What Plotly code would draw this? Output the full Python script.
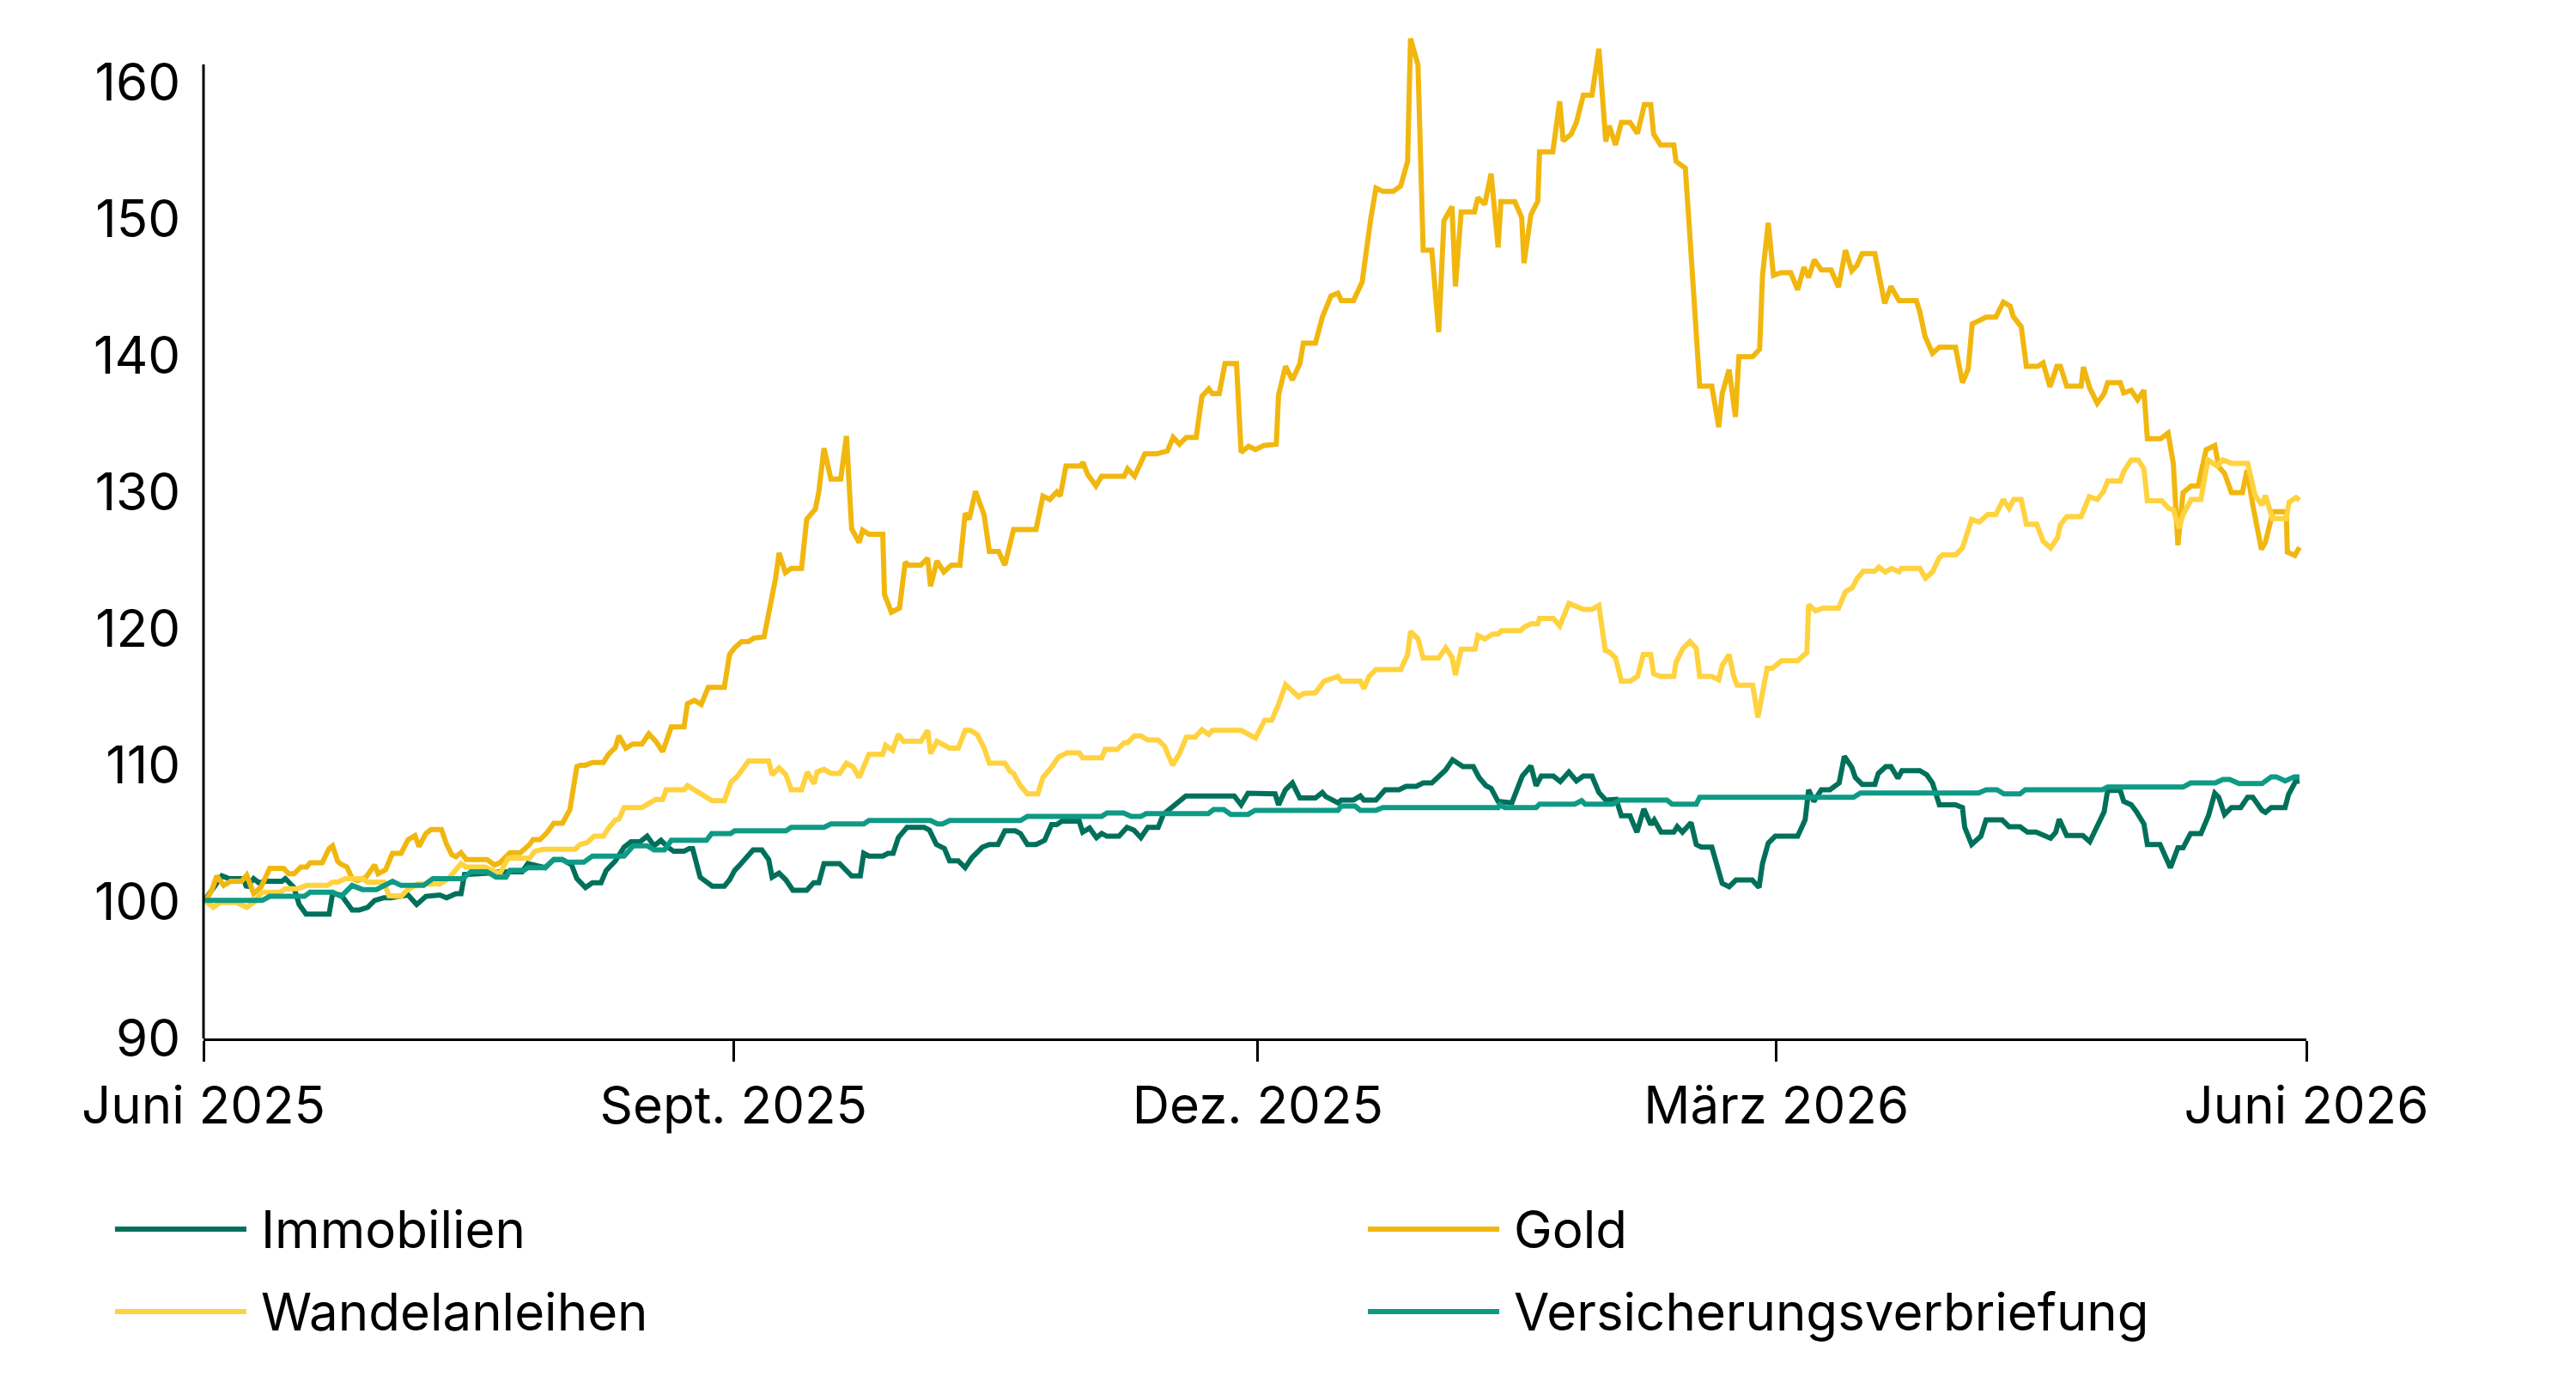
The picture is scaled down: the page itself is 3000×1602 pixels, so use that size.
import pandas as pd
import plotly.graph_objects as go

# ---------------- data (day offsets from 1 June 2025, index values) ----------------
start_date = "2025-06-01"

immo_days = [0.2, 3.2, 4.4, 6.9, 7.5, 8.7, 9.6, 10.8, 13.6, 14.2, 15.7, 16.6, 17.8, 21.8, 22.4, 23.9, 25.8, 27.0,
             28.5, 29.7, 31.3, 32.5, 35.5, 37.0, 38.6, 41.0, 42.2, 43.8, 44.7, 45.3, 49.6, 51.4, 55.3, 56.3, 59.3,
             60.8, 62.3, 63.9, 64.8, 66.3, 67.5, 69.0, 69.9, 71.5, 73.0, 74.2, 75.8, 77.0, 78.2, 79.4, 80.6, 81.6,
             83.4, 84.3, 84.9, 86.2, 88.3, 90.4, 91.3, 92.2, 93.1, 95.4, 96.9, 98.1, 98.7, 99.9, 101.1, 102.3,
             104.7, 105.9, 106.8, 107.7, 110.4, 112.5, 114.0, 114.6, 115.5, 117.9, 118.8, 119.7, 120.6, 122.1,
             125.1, 126.0, 127.2, 128.6, 129.5, 131.0, 132.2, 133.4, 135.2, 136.4, 137.9, 139.1, 140.9, 141.8,
             143.0, 144.5, 146.0, 147.2, 148.1, 149.0, 152.0, 152.6, 153.8, 155.0, 155.9, 156.8, 158.9, 160.3,
             161.5, 162.7, 163.9, 165.7, 166.6, 168.1, 170.5, 178.9, 180.1, 181.3, 186.0, 186.6, 187.8, 189.0,
             190.3, 193.0, 194.2, 194.8, 196.9, 197.5, 199.6, 200.8, 201.4, 203.5, 205.1, 207.5, 208.7, 210.5,
             211.7, 213.2, 215.6, 216.8, 218.6, 220.4, 221.4, 222.6, 223.5, 224.7, 227.1, 228.9, 230.4, 231.3,
             232.2, 234.3, 235.5, 237.0, 238.3, 239.5, 241.0, 242.2, 243.4, 245.2, 246.1, 247.6, 248.8, 250.0,
             251.2, 251.8, 253.0, 255.2, 255.8, 256.7, 258.2, 259.1, 260.0, 261.8, 262.7, 263.6, 264.8, 266.0,
             268.8, 270.0, 270.6, 271.6, 272.8, 276.7, 278.0, 278.6, 279.5, 280.8, 282.3, 283.9, 284.8, 286.1,
             286.7, 287.9, 290.1, 290.7, 292.0, 292.9, 294.1, 294.8, 297.9, 299.1, 300.1, 301.3, 304.1, 305.3,
             305.7, 306.9, 308.5, 309.4, 312.2, 313.4, 315.3, 316.6, 318.1, 320.6, 321.5, 322.1, 323.4, 326.2,
             327.4, 328.7, 329.9, 330.5, 332.7, 333.3, 334.6, 335.5, 336.8, 337.4, 339.6, 340.5, 341.4, 342.7,
             343.6, 344.9, 346.7, 348.0, 349.1, 349.8, 350.8, 352.0, 353.6, 354.8, 355.7, 357.3, 357.9, 358.9,
             361.3, 361.9, 363.1, 363.8]
immo_vals = [100.1, 101.9, 101.7, 101.7, 101.05, 101.7, 101.4, 101.5, 101.5, 101.7, 101.05, 99.8, 99.1, 99.1,
             100.6, 100.5, 99.4, 99.4, 99.6, 100.1, 100.3, 100.3, 100.5, 99.8, 100.4, 100.5, 100.3, 100.6, 100.6,
             102.0, 102.1, 102.2, 102.2, 102.8, 102.5, 103.1, 103.1, 102.7, 101.7, 101.05, 101.4, 101.4, 102.3,
             103.0, 104.0, 104.4, 104.4, 104.8, 104.1, 104.5, 104.0, 103.7, 103.7, 103.9, 103.9, 101.8, 101.15,
             101.15, 101.6, 102.3, 102.7, 103.8, 103.8, 103.1, 101.8, 102.1, 101.6, 100.85, 100.85, 101.4, 101.4,
             102.8, 102.8, 101.9, 101.9, 103.55, 103.35, 103.35, 103.55, 103.55, 104.7, 105.45, 105.45, 105.25,
             104.2, 103.9, 103.0, 103.0, 102.5, 103.25, 104.0, 104.2, 104.2, 105.2, 105.2, 105.0, 104.2, 104.2,
             104.5, 105.65, 105.65, 105.9, 105.9, 105.1, 105.4, 104.7, 105.0, 104.8, 104.8, 105.45, 105.25, 104.7,
             105.45, 105.45, 106.4, 106.9, 107.75, 107.75, 107.1, 107.95, 107.9, 107.1, 108.2, 108.7, 107.6,
             107.6, 108.0, 107.7, 107.25, 107.45, 107.45, 107.75, 107.45, 107.45, 108.2, 108.2, 108.45, 108.45,
             108.7, 108.7, 109.65, 110.4, 109.9, 109.9, 109.1, 108.5, 108.3, 107.35, 107.25, 109.2, 109.95, 108.5,
             109.2, 109.2, 108.8, 109.5, 108.85, 109.2, 109.2, 108.0, 107.45, 107.5, 106.3, 106.3, 105.1, 106.8,
             105.65, 106.0, 105.1, 105.1, 105.5, 105.1, 105.8, 104.2, 104.0, 104.0, 102.8, 101.35, 101.1, 101.6,
             101.6, 101.05, 102.8, 104.3, 104.8, 104.8, 106.0, 108.2, 107.35, 108.2, 108.2, 108.7, 110.65, 109.85,
             109.1, 108.6, 108.6, 109.4, 109.9, 109.9, 109.05, 109.6, 109.6, 109.3, 108.7, 107.1, 107.1, 106.9,
             105.45, 104.2, 104.8, 106.0, 106.0, 105.5, 105.5, 105.1, 105.1, 104.65, 105.1, 106.05, 104.85,
             104.85, 104.4, 105.45, 106.6, 108.15, 108.15, 107.35, 107.1, 106.6, 105.7, 104.2, 104.2, 103.35,
             102.5, 103.95, 103.95, 105.0, 105.0, 106.3, 107.95, 107.65, 106.4, 106.9, 106.9, 107.65, 107.65,
             106.7, 106.55, 106.9, 106.9, 107.85, 108.8, 108.85]

gold_days = [0.5, 1.4, 2.3, 3.5, 4.7, 6.6, 7.5, 8.7, 10.0, 11.5, 13.9, 14.8, 15.7, 16.9, 17.9, 18.5, 20.6, 21.8,
             22.4, 23.3, 23.9, 24.9, 25.8, 26.7, 28.2, 29.7, 30.3, 31.6, 32.8, 34.3, 35.5, 36.7, 37.4, 38.6, 39.5,
             41.3, 42.2, 43.1, 43.8, 44.7, 45.6, 49.2, 50.5, 51.4, 53.2, 55.0, 56.6, 57.2, 58.4, 59.6, 60.8, 62.3,
             63.6, 64.8, 65.4, 66.3, 67.5, 69.4, 70.3, 71.5, 72.1, 73.3, 74.5, 76.1, 77.3, 78.5, 79.7, 81.2, 83.4,
             84.0, 85.2, 86.4, 87.6, 90.4, 91.3, 92.2, 93.4, 94.6, 95.5, 97.3, 98.4, 99.3, 99.9, 101.0, 102.0,
             103.8, 104.7, 106.2, 106.8, 107.7, 108.9, 110.6, 111.6, 112.5, 113.8, 114.4, 115.5, 117.9, 118.2,
             119.4, 120.8, 121.8, 122.4, 124.5, 125.7, 126.2, 127.3, 128.5, 129.8, 131.3, 132.2, 132.9, 134.0,
             135.5, 136.4, 138.0, 139.1, 140.6, 144.5, 145.7, 146.9, 148.1, 148.7, 149.7, 152.3, 152.6, 153.5,
             154.9, 155.9, 159.8, 160.4, 161.6, 163.4, 165.5, 167.3, 168.3, 169.4, 170.6, 172.3, 173.3, 174.5,
             175.1, 176.3, 177.3, 179.3, 180.1, 181.4, 182.6, 184.0, 186.2, 186.6, 187.8, 189.0, 190.3, 190.9,
             193.0, 194.2, 195.7, 196.9, 197.5, 199.6, 201.1, 202.6, 203.5, 204.7, 206.5, 207.8, 209.0, 209.5,
             210.8, 211.7, 213.2, 214.4, 215.3, 216.7, 217.3, 218.3, 220.6, 221.2, 222.4, 223.5, 224.7, 225.2,
             227.6, 228.8, 229.2, 230.4, 231.6, 231.9, 234.2, 235.4, 236.0, 237.4, 238.3, 239.5, 241.0, 242.2,
             243.4, 244.0, 245.1, 246.1, 247.6, 248.9, 250.1, 251.2, 251.7, 252.9, 255.2, 255.6, 257.2, 257.9,
             258.8, 259.7, 261.8, 263.0, 263.6, 264.8, 265.9, 266.5, 268.9, 270.1, 270.6, 271.6, 272.5, 273.8,
             275.5, 276.7, 277.8, 278.6, 279.6, 280.8, 282.5, 283.8, 285.0, 286.1, 287.0, 287.9, 290.1, 290.7,
             291.8, 292.9, 294.3, 297.3, 297.9, 298.8, 300.1, 301.3, 304.1, 305.3, 306.3, 307.0, 309.4, 311.1,
             312.4, 313.6, 314.1, 315.5, 316.4, 318.4, 319.3, 320.5, 321.7, 322.3, 323.4, 325.9, 326.3, 327.4,
             328.7, 329.9, 330.5, 332.7, 333.3, 334.6, 335.7, 336.8, 337.4, 339.7, 341.0, 341.9, 342.7, 343.6,
             345.0, 346.2, 347.6, 349.1, 349.8, 350.8, 352.0, 353.9, 354.7, 355.7, 357.2, 357.9, 359.2, 361.5,
             361.7, 363.0, 363.8]
gold_vals = [100.15, 100.8, 101.9, 101.2, 101.5, 101.5, 101.95, 100.6, 101.1, 102.45, 102.45, 102.05, 102.05,
             102.55, 102.55, 102.85, 102.85, 103.9, 104.1, 102.95, 102.75, 102.55, 101.7, 101.55, 101.8, 102.7,
             102.05, 102.35, 103.55, 103.55, 104.55, 104.85, 104.05, 105.0, 105.3, 105.3, 104.2, 103.45, 103.3,
             103.6, 103.1, 103.1, 102.7, 102.85, 103.6, 103.6, 104.2, 104.55, 104.55, 105.05, 105.75, 105.75,
             106.75, 109.9, 110.0, 110.0, 110.2, 110.2, 110.8, 111.3, 112.15, 111.25, 111.55, 111.55, 112.3,
             111.75, 111.0, 112.8, 112.8, 114.5, 114.75, 114.45, 115.7, 115.7, 118.1, 118.6, 119.05, 119.05,
             119.3, 119.4, 121.75, 123.7, 125.55, 124.1, 124.4, 124.4, 128.0, 128.75, 130.0, 133.2, 130.95,
             130.95, 134.1, 127.3, 126.3, 127.2, 126.9, 126.9, 122.5, 121.2, 121.5, 124.85, 124.65, 124.65,
             125.15, 123.1, 124.95, 124.15, 124.65, 124.65, 128.45, 128.0, 130.05, 128.3, 125.65, 125.65, 124.65,
             127.25, 127.25, 129.7, 129.45, 130.0, 129.7, 131.9, 131.9, 132.2, 131.25, 130.45, 131.15, 131.15,
             131.7, 131.15, 132.8, 132.8, 133.0, 134.0, 133.5, 134.0, 134.0, 137.0, 137.55, 137.2, 137.2, 139.4,
             139.4, 132.9, 133.35, 133.1, 133.4, 133.5, 137.1, 139.2, 138.2, 139.4, 140.9, 140.9, 142.8, 144.35,
             144.55, 144.0, 144.0, 145.35, 150.0, 152.25, 152.0, 152.0, 152.4, 154.2, 163.2, 161.25, 147.7,
             147.7, 141.7, 149.85, 150.9, 145.05, 150.5, 150.5, 151.55, 151.05, 153.3, 147.9, 151.25, 151.25,
             150.1, 146.75, 150.3, 151.3, 154.9, 154.9, 158.6, 155.7, 156.2, 157.05, 159.05, 159.05, 162.45,
             155.65, 156.8, 155.4, 157.05, 157.05, 156.25, 158.35, 158.35, 156.2, 155.4, 155.4, 154.2, 153.7,
             149.35, 143.9, 137.75, 137.75, 134.75, 137.2, 138.95, 135.5, 139.9, 139.9, 140.45, 145.85, 149.7,
             145.85, 146.05, 146.05, 144.8, 146.45, 145.7, 147.0, 146.25, 146.25, 145.0, 147.7, 146.2, 146.6,
             147.45, 147.45, 146.3, 143.8, 145.05, 144.0, 144.0, 143.2, 141.4, 140.15, 140.6, 140.6, 138.0,
             139.0, 142.3, 142.8, 142.8, 143.9, 143.6, 142.85, 142.1, 139.2, 139.2, 139.45, 137.7, 139.2, 139.2,
             137.75, 137.75, 139.15, 137.6, 136.5, 137.2, 138.0, 138.0, 137.25, 137.45, 136.75, 137.45, 133.9,
             133.9, 134.3, 132.1, 126.1, 129.95, 130.45, 130.45, 133.1, 133.4, 131.85, 131.35, 129.95, 129.95,
             131.6, 129.05, 125.8, 126.35, 128.55, 128.55, 125.6, 125.35, 125.95]

wandel_days = [0.5, 1.7, 2.9, 5.7, 7.5, 8.7, 10.2, 13.3, 14.2, 16.3, 17.9, 21.5, 22.4, 23.3, 24.6, 27.6, 28.5,
               31.3, 32.2, 34.3, 35.2, 37.1, 41.0, 42.5, 44.7, 45.6, 48.9, 51.4, 52.9, 56.6, 57.5, 59.0, 64.5,
               65.4, 66.6, 67.8, 69.4, 70.3, 71.5, 72.1, 73.0, 76.1, 78.5, 79.7, 80.3, 83.4, 84.0, 87.0, 88.3,
               90.4, 91.6, 92.5, 94.6, 98.1, 98.7, 99.9, 101.1, 102.0, 103.8, 104.8, 106.0, 106.5, 107.7, 108.9,
               110.4, 111.6, 112.8, 113.8, 114.6, 115.5, 117.9, 118.4, 119.6, 120.6, 121.5, 124.5, 125.7, 126.2,
               127.3, 129.5, 131.0, 132.2, 133.1, 134.3, 135.5, 136.4, 139.1, 140.0, 140.6, 141.8, 143.0, 144.8,
               145.7, 147.2, 148.4, 149.9, 152.0, 152.6, 155.9, 156.5, 158.6, 159.8, 160.4, 161.6, 162.7, 163.9,
               165.7, 166.8, 168.2, 169.4, 170.6, 172.1, 173.3, 174.5, 175.1, 180.1, 182.6, 184.2, 185.4, 186.6,
               187.8, 190.1, 190.9, 193.0, 194.5, 196.9, 197.5, 200.8, 201.4, 202.3, 203.5, 207.8, 209.0, 209.5,
               210.8, 211.7, 214.4, 215.6, 216.7, 217.3, 218.3, 220.7, 221.2, 222.4, 223.8, 224.7, 225.3, 228.6,
               229.2, 230.4, 231.6, 231.9, 234.3, 235.4, 237.0, 239.5, 241.0, 242.2, 243.3, 244.0, 245.1, 246.1,
               247.6, 248.9, 249.9, 251.2, 251.7, 252.9, 255.2, 255.6, 256.8, 258.0, 259.1, 259.7, 261.8, 263.0,
               263.6, 264.8, 265.6, 266.2, 268.9, 269.8, 271.4, 272.3, 273.9, 276.7, 278.3, 278.6, 279.8, 281.1,
               283.8, 285.0, 286.2, 287.0, 288.1, 290.1, 290.8, 291.9, 293.0, 294.3, 294.7, 297.9, 298.9, 300.1,
               301.3, 301.9, 304.1, 305.3, 306.9, 308.2, 309.7, 311.1, 312.4, 313.4, 314.2, 315.5, 316.4, 318.2,
               319.3, 320.6, 321.8, 322.3, 323.4, 325.9, 327.3, 328.7, 329.8, 330.5, 332.7, 333.3, 334.6, 335.8,
               336.8, 337.4, 339.9, 341.1, 341.9, 342.9, 343.6, 345.0, 346.7, 347.9, 349.5, 350.5, 352.0, 354.8,
               356.1, 357.3, 357.9, 359.1, 361.5, 362.0, 363.2, 363.8]
wandel_vals = [100.0, 99.6, 99.95, 99.95, 99.6, 99.95, 100.7, 100.7, 100.95, 100.95, 101.2, 101.2, 101.45,
               101.45, 101.7, 101.7, 101.45, 101.45, 100.45, 100.4, 100.8, 101.3, 101.3, 101.7, 102.8, 102.55,
               102.55, 102.05, 103.2, 103.2, 103.7, 103.85, 103.85, 104.2, 104.35, 104.8, 104.8, 105.4, 106.0,
               106.05, 106.9, 106.9, 107.5, 107.5, 108.2, 108.2, 108.5, 107.8, 107.4, 107.4, 108.8, 109.1, 110.3,
               110.3, 109.3, 109.8, 109.3, 108.2, 108.2, 109.5, 108.65, 109.5, 109.7, 109.4, 109.4, 110.15, 109.85,
               109.1, 110.0, 110.8, 110.8, 111.45, 111.1, 112.25, 111.75, 111.75, 112.55, 110.85, 111.75, 111.25,
               111.25, 112.55, 112.55, 112.25, 111.25, 110.15, 110.15, 109.55, 109.4, 108.5, 107.9, 107.9, 109.1,
               109.85, 110.6, 110.9, 110.9, 110.55, 110.55, 111.15, 111.15, 111.65, 111.65, 112.15, 112.15,
               111.85, 111.85, 111.4, 110.0, 110.85, 112.05, 112.05, 112.6, 112.25, 112.55, 112.55, 112.0, 113.3,
               113.3, 114.45, 115.9, 115.0, 115.25, 115.3, 116.15, 116.5, 116.15, 116.15, 115.6, 116.5, 117.0,
               117.0, 118.1, 119.8, 119.25, 117.85, 117.85, 118.6, 117.9, 116.6, 118.5, 118.5, 119.5, 119.25,
               119.6, 119.6, 119.85, 119.85, 120.1, 120.35, 120.35, 120.75, 120.75, 120.2, 121.85, 121.4, 121.4,
               121.7, 118.4, 118.3, 117.85, 116.15, 116.15, 116.5, 118.1, 118.1, 116.7, 116.5, 116.5, 117.55,
               118.55, 119.05, 118.55, 116.5, 116.5, 116.25, 117.3, 118.1, 116.5, 115.85, 115.85, 113.5, 117.1,
               117.1, 117.65, 117.65, 118.25, 121.75, 121.3, 121.5, 121.5, 122.7, 123.0, 123.65, 124.2, 124.2,
               124.5, 124.15, 124.4, 124.15, 124.4, 124.4, 123.7, 124.15, 125.2, 125.4, 125.4, 125.9, 128.0,
               127.8, 128.35, 128.35, 129.45, 128.8, 129.45, 129.45, 127.65, 127.65, 126.4, 125.9, 126.65, 127.6,
               128.2, 128.2, 129.65, 129.45, 130.05, 130.8, 130.8, 131.5, 132.35, 132.35, 131.7, 129.35, 129.35,
               128.8, 128.7, 127.35, 128.35, 129.45, 129.45, 132.35, 131.9, 132.35, 132.1, 132.1, 129.75, 129.05,
               129.75, 128.05, 128.05, 129.25, 129.6, 129.4]

vers_days = [0.2, 10.2, 11.5, 17.5, 18.5, 22.4, 23.9, 25.8, 27.6, 30.0, 32.8, 34.3, 38.2, 39.8, 45.0, 46.4, 49.2,
             50.8, 52.5, 53.2, 55.6, 56.3, 59.3, 60.8, 62.3, 63.0, 66.0, 67.5, 73.0, 74.6, 77.0, 78.2, 80.0, 81.2,
             87.3, 88.2, 91.5, 92.2, 101.1, 102.0, 107.7, 108.9, 114.6, 115.5, 126.2, 127.4, 128.3, 129.5, 141.8,
             143.0, 155.9, 156.8, 159.7, 161.0, 162.7, 163.6, 174.4, 175.3, 177.1, 178.3, 181.3, 182.5, 196.9,
             197.5, 199.9, 200.8, 203.5, 204.7, 224.7, 225.0, 225.9, 231.3, 231.9, 238.0, 239.2, 239.8, 244.6,
             245.8, 254.0, 254.9, 259.1, 259.7, 286.4, 287.6, 308.1, 309.4, 311.3, 312.5, 315.3, 316.2, 329.6,
             330.5, 343.6, 344.9, 349.2, 350.5, 351.7, 353.3, 357.3, 358.9, 359.8, 361.3, 362.9, 363.8]
vers_vals = [100.1, 100.1, 100.4, 100.4, 100.7, 100.7, 100.4, 101.2, 100.9, 100.9, 101.5, 101.2, 101.2, 101.7,
             101.7, 102.2, 102.2, 101.8, 101.8, 102.3, 102.3, 102.5, 102.5, 103.1, 103.1, 102.9, 102.9, 103.35,
             103.35, 104.1, 104.1, 103.8, 103.8, 104.5, 104.5, 105.0, 105.0, 105.2, 105.2, 105.45, 105.45, 105.7,
             105.7, 105.95, 105.95, 105.7, 105.7, 105.95, 105.95, 106.25, 106.25, 106.5, 106.5, 106.25, 106.25,
             106.45, 106.45, 106.75, 106.75, 106.4, 106.4, 106.7, 106.7, 107.0, 107.0, 106.7, 106.7, 106.9,
             106.9, 107.1, 106.9, 106.9, 107.15, 107.15, 107.4, 107.15, 107.15, 107.45, 107.45, 107.15, 107.15,
             107.65, 107.65, 107.97, 107.97, 108.2, 108.2, 107.9, 107.9, 108.2, 108.2, 108.4, 108.4, 108.7, 108.7,
             108.95, 108.95, 108.65, 108.65, 109.15, 109.15, 108.85, 109.15, 109.15]

series_names = ["Immobilien", "Gold", "Wandelanleihen", "Versicherungsverbriefung"]
series_colors = ["#00705B", "#F1B70F", "#FFD23F", "#0E9A84"]

x_tickvals = ["2025-06-01", "2025-09-01", "2025-12-01", "2026-03-01", "2026-06-01"]
x_ticktext = ["Juni 2025", "Sept. 2025", "Dez. 2025", "März 2026", "Juni 2026"]
y_tickvals = [90, 100, 110, 120, 130, 140, 150, 160]

# ---------------- figure ----------------
FONT = "Inter"
FSIZE = 60
base = pd.Timestamp(start_date)


def to_dates(days):
    return [base + pd.Timedelta(days=d) for d in days]


fig = go.Figure()
all_days = [immo_days, gold_days, wandel_days, vers_days]
all_vals = [immo_vals, gold_vals, wandel_vals, vers_vals]
for name, color, d, v in zip(series_names, series_colors, all_days, all_vals):
    fig.add_trace(go.Scatter(x=to_dates(d), y=v, mode="lines", name=name,
                             line=dict(color=color, width=6), showlegend=False))

fig.update_layout(
    width=3000, height=1602,
    margin=dict(l=237, r=314, t=32, b=393),
    paper_bgcolor="white", plot_bgcolor="white",
    font=dict(family=FONT, color="black", size=FSIZE),
)
fig.update_xaxes(
    type="date", range=["2025-06-01", "2026-06-01"],
    tickvals=x_tickvals, ticktext=x_ticktext,
    ticks="outside", ticklen=24, tickwidth=2.5, tickcolor="black",
    showline=True, linecolor="black", linewidth=3,
    showgrid=False, zeroline=False,
    tickfont=dict(family=FONT, size=FSIZE, color="black"),
    ticklabelstandoff=0,
)
fig.update_yaxes(
    range=[90, 164], tickvals=y_tickvals,
    showline=False, ticks="", showgrid=False, zeroline=False,
    tickfont=dict(family=FONT, size=FSIZE, color="black"),
    ticklabelstandoff=26,
)
# y axis line (stops a little below the top of the plotting range)
fig.add_shape(type="line", xref="paper", yref="y", x0=0, x1=0, y0=90, y1=161.3,
              line=dict(color="black", width=3))

# legend drawn manually (two columns, long line samples)
leg_x_line = [(-0.0421, 0.0204), (0.5537, 0.6162), (-0.0421, 0.0204), (0.5537, 0.6162)]
leg_x_text = [0.0265, 0.6223, 0.0265, 0.6223]
leg_y = [-0.1886, -0.1886, -0.2702, -0.2702]
for name, color, (xa, xb), xt, yy in zip(series_names, series_colors, leg_x_line, leg_x_text, leg_y):
    fig.add_shape(type="line", xref="paper", yref="paper", x0=xa, x1=xb, y0=yy, y1=yy,
                  line=dict(color=color, width=6))
    fig.add_annotation(xref="paper", yref="paper", x=xt, y=yy, text=name, showarrow=False,
                       xanchor="left", yanchor="middle",
                       font=dict(family=FONT, size=FSIZE, color="black"))

fig.write_html("out.html")
